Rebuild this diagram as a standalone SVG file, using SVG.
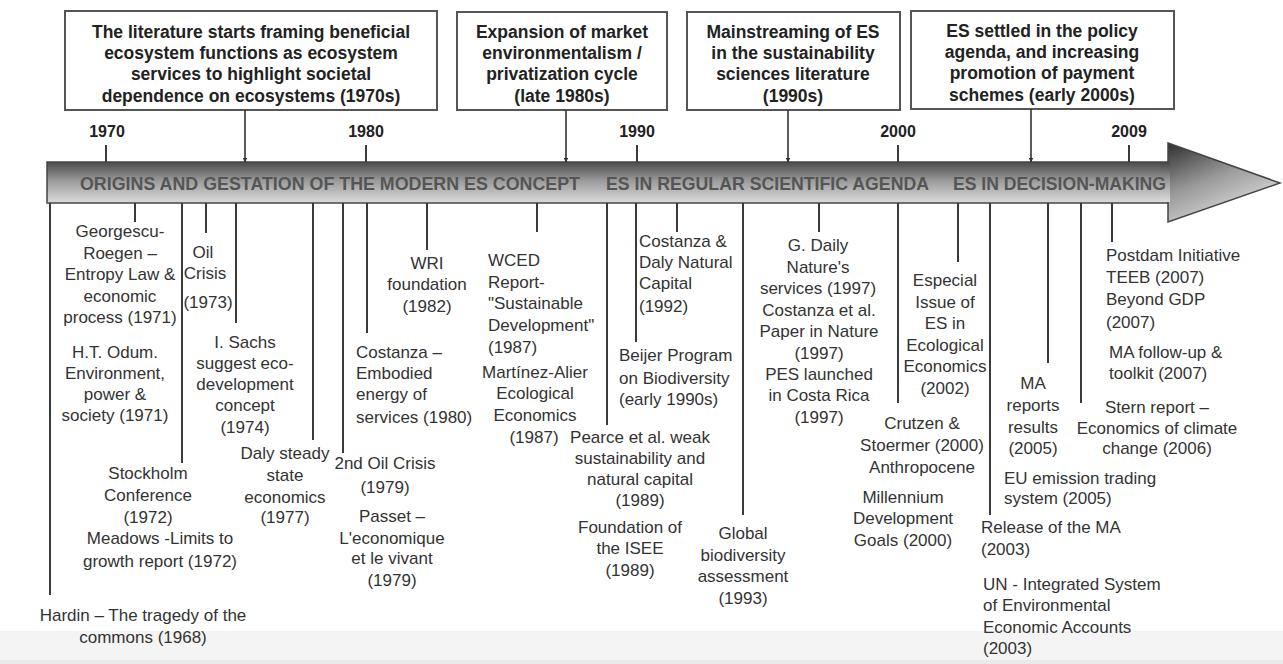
<svg xmlns="http://www.w3.org/2000/svg" width="1283" height="664" viewBox="0 0 1283 664">
<defs>
<linearGradient id="gBody" x1="0" y1="0" x2="0" y2="1">
<stop offset="0" stop-color="#4a4a4a"/>
<stop offset="0.45" stop-color="#9a9a9a"/>
<stop offset="1" stop-color="#dcdcdc"/>
</linearGradient>
<linearGradient id="gHead" x1="0" y1="0" x2="0.6" y2="1">
<stop offset="0" stop-color="#2e2e2e"/>
<stop offset="0.5" stop-color="#9a9a9a"/>
<stop offset="1" stop-color="#e2e2e2"/>
</linearGradient>
<marker id="arr" viewBox="0 0 10 10" refX="9" refY="5" markerWidth="5" markerHeight="5" orient="auto" markerUnits="userSpaceOnUse">
<path d="M0,0 L10,5 L0,10 z" fill="#333"/>
</marker>
<style>
.box{fill:#fff;stroke:#555;stroke-width:2}
.hd{font-family:"Liberation Sans",Arial,sans-serif;font-weight:bold;font-size:17.5px;fill:#222;text-anchor:middle}
.yr{font-family:"Liberation Sans",Arial,sans-serif;font-weight:bold;font-size:16px;fill:#222;text-anchor:middle}
.bd{font-family:"Liberation Sans",Arial,sans-serif;font-weight:bold;font-size:19px;fill:#555}
.t{font-family:"Liberation Sans",Arial,sans-serif;font-size:17px;fill:#333}
.m{text-anchor:middle}
.ln{stroke:#3a3a3a;stroke-width:2;fill:none}
.cn{stroke:#333;stroke-width:1.6;fill:none;marker-end:url(#arr)}
</style>
</defs>
<rect x="0" y="0" width="1283" height="664" fill="#fff"/>
<rect x="0" y="631" width="1283" height="33" fill="#f4f4f4"/>
<rect x="0" y="660" width="1283" height="4" fill="#eaeaea"/>

<g id="timeline-arrow">
<rect x="47" y="162" width="1121" height="41" fill="url(#gBody)" stroke="#444" stroke-width="1.5"/>
<path d="M1168,143 L1280,183 L1168,222 Z" fill="url(#gHead)" stroke="#444" stroke-width="1.5"/>
<rect x="1160" y="163" width="10" height="39" fill="url(#gBody)"/>
<text class="bd" x="80" y="190" textLength="500" lengthAdjust="spacingAndGlyphs">ORIGINS AND GESTATION OF THE MODERN ES CONCEPT</text>
<text class="bd" x="606" y="190" textLength="323" lengthAdjust="spacingAndGlyphs">ES IN REGULAR SCIENTIFIC AGENDA</text>
<text class="bd" x="953" y="190" textLength="213" lengthAdjust="spacingAndGlyphs">ES IN DECISION-MAKING</text>
</g>

<g id="years">
<text class="yr" x="107" y="137">1970</text>
<text class="yr" x="366" y="137">1980</text>
<text class="yr" x="637" y="137">1990</text>
<text class="yr" x="898" y="137">2000</text>
<text class="yr" x="1129" y="137">2009</text>
</g>

<g id="phase-1970s">
<rect class="box" x="65" y="11" width="372" height="99"/>
<text class="hd"><tspan x="251" y="38">The literature starts framing beneficial</tspan><tspan x="251" y="59">ecosystem functions as ecosystem</tspan><tspan x="251" y="80">services to highlight societal</tspan><tspan x="251" y="102">dependence on ecosystems (1970s)</tspan></text>
</g>
<g id="phase-late1980s">
<rect class="box" x="457" y="12" width="210" height="98"/>
<text class="hd"><tspan x="562" y="38">Expansion of market</tspan><tspan x="562" y="59">environmentalism /</tspan><tspan x="562" y="80">privatization cycle</tspan><tspan x="562" y="102">(late 1980s)</tspan></text>
</g>
<g id="phase-1990s">
<rect class="box" x="687" y="12" width="213" height="98"/>
<text class="hd"><tspan x="793" y="38">Mainstreaming of ES</tspan><tspan x="793" y="59">in the sustainability</tspan><tspan x="793" y="80">sciences literature</tspan><tspan x="793" y="102">(1990s)</tspan></text>
</g>
<g id="phase-2000s">
<rect class="box" x="911" y="11" width="263" height="98"/>
<text class="hd"><tspan x="1042" y="37">ES settled in the policy</tspan><tspan x="1042" y="58">agenda, and increasing</tspan><tspan x="1042" y="79">promotion of payment</tspan><tspan x="1042" y="101">schemes (early 2000s)</tspan></text>
</g>

<g id="connectors">
<line class="cn" x1="245" y1="110" x2="245" y2="162"/>
<line class="cn" x1="566" y1="110" x2="566" y2="162"/>
<line class="cn" x1="788" y1="110" x2="788" y2="162"/>
<line class="cn" x1="1031" y1="109" x2="1031" y2="162"/>
<line class="ln" x1="106" y1="145" x2="106" y2="162"/>
<line class="ln" x1="366" y1="145" x2="366" y2="162"/>
<line class="ln" x1="637" y1="145" x2="637" y2="162"/>
<line class="ln" x1="898" y1="145" x2="898" y2="162"/>
<line class="ln" x1="1129" y1="145" x2="1129" y2="162"/>
<line class="ln" x1="50" y1="203" x2="50" y2="595"/>
<line class="ln" x1="135" y1="203" x2="135" y2="222"/>
<line class="ln" x1="182" y1="203" x2="182" y2="463"/>
<line class="ln" x1="206" y1="203" x2="206" y2="233"/>
<line class="ln" x1="236" y1="203" x2="236" y2="323"/>
<line class="ln" x1="313" y1="203" x2="313" y2="440"/>
<line class="ln" x1="343" y1="203" x2="343" y2="453"/>
<line class="ln" x1="367" y1="203" x2="367" y2="333"/>
<line class="ln" x1="427" y1="203" x2="427" y2="250"/>
<line class="ln" x1="537" y1="203" x2="537" y2="232"/>
<line class="ln" x1="607" y1="203" x2="607" y2="425"/>
<line class="ln" x1="636" y1="203" x2="636" y2="342"/>
<line class="ln" x1="677" y1="203" x2="677" y2="232"/>
<line class="ln" x1="743" y1="203" x2="743" y2="515"/>
<line class="ln" x1="819" y1="203" x2="819" y2="232"/>
<line class="ln" x1="898" y1="203" x2="898" y2="403"/>
<line class="ln" x1="958" y1="203" x2="958" y2="262"/>
<line class="ln" x1="990" y1="203" x2="990" y2="515"/>
<line class="ln" x1="1048" y1="203" x2="1048" y2="363"/>
<line class="ln" x1="1081" y1="203" x2="1081" y2="403"/>
<line class="ln" x1="1112" y1="203" x2="1112" y2="242"/>
</g>

<g id="georgescu"><text class="t m"><tspan x="120" y="237">Georgescu-</tspan><tspan x="120" y="259">Roegen –</tspan><tspan x="120" y="280">Entropy Law  &amp;</tspan><tspan x="120" y="302">economic</tspan><tspan x="120" y="323">process (1971)</tspan></text></g>
<g id="odum"><text class="t m"><tspan x="115" y="358">H.T. Odum.</tspan><tspan x="115" y="379">Environment,</tspan><tspan x="115" y="400">power &amp;</tspan><tspan x="115" y="421">society (1971)</tspan></text></g>
<g id="oil-crisis"><text class="t m"><tspan x="203" y="258">Oil</tspan><tspan x="205" y="279">Crisis</tspan><tspan x="208" y="308">(1973)</tspan></text></g>
<g id="sachs"><text class="t m"><tspan x="245" y="348">I. Sachs</tspan><tspan x="245" y="369">suggest eco-</tspan><tspan x="245" y="390">development</tspan><tspan x="245" y="411">concept</tspan><tspan x="245" y="433">(1974)</tspan></text></g>
<g id="stockholm"><text class="t m"><tspan x="148" y="479">Stockholm</tspan><tspan x="148" y="501">Conference</tspan><tspan x="148" y="523">(1972)</tspan></text></g>
<g id="meadows"><text class="t m"><tspan x="160" y="544">Meadows -Limits to</tspan><tspan x="160" y="567">growth report (1972)</tspan></text></g>
<g id="hardin"><text class="t m"><tspan x="143" y="621">Hardin – The tragedy of the</tspan><tspan x="143" y="643">commons (1968)</tspan></text></g>
<g id="daly-steady"><text class="t m"><tspan x="285" y="459">Daly steady</tspan><tspan x="285" y="481">state</tspan><tspan x="285" y="503">economics</tspan><tspan x="285" y="523">(1977)</tspan></text></g>
<g id="second-oil"><text class="t m"><tspan x="385" y="469">2nd Oil Crisis</tspan><tspan x="385" y="493">(1979)</tspan></text></g>
<g id="passet"><text class="t m"><tspan x="392" y="522">Passet –</tspan><tspan x="392" y="544">L'economique</tspan><tspan x="392" y="564">et le vivant</tspan><tspan x="392" y="586">(1979)</tspan></text></g>
<g id="wri"><text class="t m"><tspan x="427" y="269">WRI</tspan><tspan x="427" y="290">foundation</tspan><tspan x="427" y="312">(1982)</tspan></text></g>
<g id="costanza-embodied"><text class="t"><tspan x="356" y="358">Costanza –</tspan><tspan x="356" y="379">Embodied</tspan><tspan x="356" y="400">energy of</tspan><tspan x="356" y="423">services (1980)</tspan></text></g>
<g id="wced"><text class="t"><tspan x="488" y="266">WCED</tspan><tspan x="488" y="288">Report-</tspan><tspan x="488" y="309">"Sustainable</tspan><tspan x="488" y="331">Development"</tspan><tspan x="488" y="353">(1987)</tspan></text></g>
<g id="martinez-alier"><text class="t m"><tspan x="535" y="378">Martínez-Alier</tspan><tspan x="535" y="399">Ecological</tspan><tspan x="535" y="421">Economics</tspan><tspan x="534" y="443">(1987)</tspan></text></g>
<g id="pearce"><text class="t m"><tspan x="640" y="443">Pearce et al. weak</tspan><tspan x="640" y="464">sustainability and</tspan><tspan x="640" y="485">natural capital</tspan><tspan x="640" y="506">(1989)</tspan></text></g>
<g id="isee"><text class="t m"><tspan x="630" y="533">Foundation of</tspan><tspan x="630" y="554">the ISEE</tspan><tspan x="630" y="576">(1989)</tspan></text></g>
<g id="costanza-daly"><text class="t"><tspan x="639" y="247">Costanza &amp;</tspan><tspan x="639" y="268">Daly Natural</tspan><tspan x="639" y="289">Capital</tspan><tspan x="639" y="312">(1992)</tspan></text></g>
<g id="beijer"><text class="t"><tspan x="619" y="361">Beijer Program</tspan><tspan x="619" y="384">on Biodiversity</tspan><tspan x="619" y="405">(early 1990s)</tspan></text></g>
<g id="global-biodiversity"><text class="t m"><tspan x="743" y="539">Global</tspan><tspan x="743" y="561">biodiversity</tspan><tspan x="743" y="582">assessment</tspan><tspan x="743" y="604">(1993)</tspan></text></g>
<g id="g-daily"><text class="t m"><tspan x="818" y="251">G. Daily</tspan><tspan x="818" y="273">Nature's</tspan><tspan x="818" y="294">services (1997)</tspan></text></g>
<g id="costanza-nature"><text class="t m"><tspan x="819" y="316">Costanza et al.</tspan><tspan x="819" y="337">Paper in Nature</tspan><tspan x="819" y="359">(1997)</tspan></text></g>
<g id="pes"><text class="t m"><tspan x="819" y="380">PES launched</tspan><tspan x="819" y="401">in Costa Rica</tspan><tspan x="819" y="423">(1997)</tspan></text></g>
<g id="especial-issue"><text class="t m"><tspan x="945" y="286">Especial</tspan><tspan x="945" y="308">Issue of</tspan><tspan x="945" y="329">ES in</tspan><tspan x="945" y="351">Ecological</tspan><tspan x="945" y="372">Economics</tspan><tspan x="945" y="394">(2002)</tspan></text></g>
<g id="crutzen"><text class="t m"><tspan x="922" y="429">Crutzen &amp;</tspan><tspan x="922" y="451">Stoermer (2000)</tspan><tspan x="922" y="473">Anthropocene</tspan></text></g>
<g id="mdg"><text class="t m"><tspan x="903" y="503">Millennium</tspan><tspan x="903" y="524">Development</tspan><tspan x="903" y="546">Goals (2000)</tspan></text></g>
<g id="ma-reports"><text class="t m"><tspan x="1033" y="389">MA</tspan><tspan x="1033" y="411">reports</tspan><tspan x="1033" y="433">results</tspan><tspan x="1033" y="454">(2005)</tspan></text></g>
<g id="eu-ets"><text class="t"><tspan x="1004" y="484">EU emission trading</tspan><tspan x="1004" y="504">system (2005)</tspan></text></g>
<g id="release-ma"><text class="t"><tspan x="981" y="533">Release of the MA</tspan><tspan x="981" y="555">(2003)</tspan></text></g>
<g id="un-seea"><text class="t"><tspan x="983" y="590">UN - Integrated System</tspan><tspan x="983" y="611">of Environmental</tspan><tspan x="983" y="633">Economic Accounts</tspan><tspan x="983" y="654">(2003)</tspan></text></g>
<g id="postdam"><text class="t"><tspan x="1106" y="261">Postdam Initiative</tspan><tspan x="1106" y="283">TEEB (2007)</tspan></text></g>
<g id="beyond-gdp"><text class="t"><tspan x="1106" y="305">Beyond GDP</tspan><tspan x="1106" y="328">(2007)</tspan></text></g>
<g id="ma-followup"><text class="t"><tspan x="1109" y="358">MA follow-up &amp;</tspan><tspan x="1109" y="379">toolkit (2007)</tspan></text></g>
<g id="stern"><text class="t m"><tspan x="1157" y="413">Stern report –</tspan><tspan x="1157" y="434">Economics of climate</tspan><tspan x="1157" y="454">change (2006)</tspan></text></g>
</svg>
